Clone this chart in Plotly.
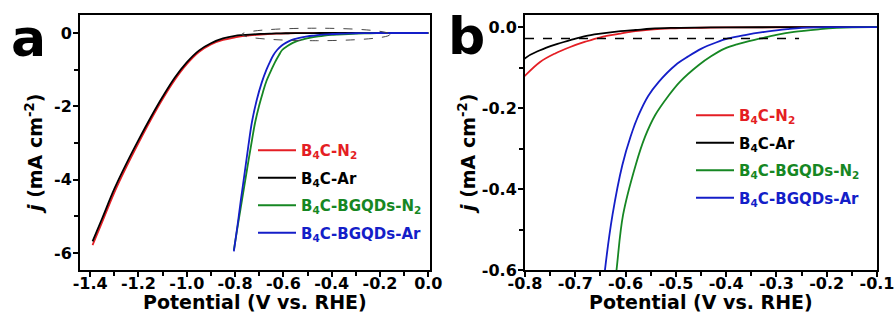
import plotly.graph_objects as go

# ---------------- data ----------------
# B4C-N2 (red) and B4C-Ar (black) share a potential grid
b4c_potential = [-1.39, -1.35, -1.30, -1.25, -1.20, -1.15, -1.10, -1.05, -1.00, -0.95,
                 -0.90, -0.85, -0.80, -0.77, -0.74, -0.71, -0.68, -0.65, -0.61, -0.58,
                 -0.55, -0.51, -0.45, -0.40, -0.30, -0.20, -0.10, 0.0]
b4c_n2_current = [-5.78, -5.15, -4.35, -3.65, -3.00, -2.38, -1.80, -1.28, -0.85, -0.52,
                  -0.31, -0.19, -0.12, -0.086, -0.065, -0.049, -0.036, -0.025, -0.016, -0.010,
                  -0.006, -0.003, -0.0015, -0.0008, -0.0003, 0.0, 0.0, 0.0]
b4c_ar_current = [-5.68, -5.05, -4.25, -3.56, -2.92, -2.31, -1.74, -1.22, -0.80, -0.48,
                  -0.28, -0.15, -0.077, -0.057, -0.043, -0.032, -0.022, -0.016, -0.010, -0.007,
                  -0.004, -0.002, -0.001, -0.0005, -0.0002, 0.0, 0.0, 0.0]

bgqd_n2_potential = [-0.805, -0.79, -0.77, -0.75, -0.73, -0.717, -0.70, -0.685, -0.67, -0.65,
                     -0.635, -0.618, -0.605, -0.580, -0.561, -0.541, -0.515, -0.492, -0.455, -0.43,
                     -0.403, -0.377, -0.331, -0.30, -0.265, -0.213, -0.18, -0.15, -0.10, 0.0]
bgqd_n2_current = [-5.92, -5.30, -4.50, -3.70, -2.92, -2.44, -1.97, -1.62, -1.31, -1.01,
                   -0.80, -0.60, -0.464, -0.341, -0.27, -0.217, -0.17, -0.135, -0.094, -0.072,
                   -0.053, -0.042, -0.028, -0.019, -0.0115, -0.005, -0.002, -0.0005, 0.0, 0.0]

bgqd_ar_potential = [-0.805, -0.79, -0.776, -0.76, -0.745, -0.73, -0.71, -0.69, -0.67, -0.655,
                     -0.641, -0.626, -0.6065, -0.59, -0.574, -0.555, -0.534, -0.501, -0.475, -0.449,
                     -0.42, -0.396, -0.36, -0.331, -0.30, -0.278, -0.25, -0.20, -0.10, 0.0]
bgqd_ar_current = [-5.95, -5.25, -4.55, -3.80, -3.08, -2.42, -1.82, -1.36, -1.00, -0.78,
                   -0.60, -0.464, -0.341, -0.27, -0.217, -0.17, -0.135, -0.094, -0.072, -0.053,
                   -0.038, -0.028, -0.019, -0.013, -0.008, -0.005, -0.002, 0.0, 0.0, 0.0]

series_names = ['B<sub>4</sub>C-N<sub>2</sub>', 'B<sub>4</sub>C-Ar',
                'B<sub>4</sub>C-BGQDs-N<sub>2</sub>', 'B<sub>4</sub>C-BGQDs-Ar']
series_colors = ['rgb(228,30,36)', 'rgb(0,0,0)', 'rgb(22,135,35)', 'rgb(20,30,200)']

# onset reference line (panel b) and highlighted region (panel a)
onset_line_x = [-0.80, -0.255]
onset_line_j = [-0.028, -0.028]
ellipse_x = [-0.772, -0.159]
ellipse_j = [-0.21, 0.13]

# axis ticks
a_xticks = [-1.4, -1.2, -1.0, -0.8, -0.6, -0.4, -0.2, 0.0]
a_xticklabels = ['-1.4', '-1.2', '-1.0', '-0.8', '-0.6', '-0.4', '-0.2', '0.0']
a_yticks = [0, -2, -4, -6]
a_yticklabels = ['0', '-2', '-4', '-6']
b_xticks = [-0.8, -0.7, -0.6, -0.5, -0.4, -0.3, -0.2, -0.1]
b_xticklabels = ['-0.8', '-0.7', '-0.6', '-0.5', '-0.4', '-0.3', '-0.2', '-0.1']
b_yticks = [0.0, -0.2, -0.4, -0.6]
b_yticklabels = ['0.0', '-0.2', '-0.4', '-0.6']

# ---------------- figure ----------------
W, H = 895, 324
FONT = 'DejaVu Sans'

def px_x(p):
    return p / W

def px_y(p):
    return 1 - p / H

series = [
    (b4c_potential, b4c_n2_current),
    (b4c_potential, b4c_ar_current),
    (bgqd_n2_potential, bgqd_n2_current),
    (bgqd_ar_potential, bgqd_ar_current),
]

fig = go.Figure()
for panel, (xa, ya, leg) in enumerate([('x', 'y', 'legend'), ('x2', 'y2', 'legend2')]):
    for k, ((xs, ys), name, color) in enumerate(zip(series, series_names, series_colors)):
        fig.add_trace(go.Scatter(
            x=xs, y=ys, mode='lines', xaxis=xa, yaxis=ya, legend=leg,
            legendgroup='p%d_%d' % (panel, k),
            name='<span style="color:%s">%s</span>' % (color, name),
            line=dict(color=color, width=1.8, shape='spline', smoothing=1.0),
        ))

fig.add_trace(go.Scatter(
    x=onset_line_x, y=onset_line_j, mode='lines', xaxis='x2', yaxis='y2',
    showlegend=False, line=dict(color='black', width=1.6, dash='dash'),
))

fig.add_shape(type='circle', xref='x', yref='y',
              x0=ellipse_x[0], x1=ellipse_x[1], y0=ellipse_j[0], y1=ellipse_j[1],
              line=dict(color='rgb(70,70,70)', width=1, dash='dash'))

tickfont = dict(family=FONT, size=16, color='black', weight='bold')
minor_common = dict(ticks='outside', ticklen=4, tickcolor='black', tickwidth=1.5)
common = dict(showline=True, linewidth=2, linecolor='black', mirror=True,
              ticks='outside', ticklen=5, tickwidth=1.5, tickcolor='black',
              showgrid=False, zeroline=False, tickfont=tickfont, automargin=False)

fig.update_layout(
    template='none',
    width=W, height=H,
    margin=dict(l=0, r=0, t=0, b=0, pad=0, autoexpand=False),
    paper_bgcolor='white', plot_bgcolor='white',
    xaxis=dict(domain=[px_x(80), px_x(430)], range=[-1.442, 0.007], anchor='y',
               tickvals=a_xticks, ticktext=a_xticklabels, ticklabelstandoff=-7,
               minor=dict(dtick=0.1, **minor_common), **common),
    yaxis=dict(domain=[px_y(270), px_y(15)], range=[-6.46, 0.49], anchor='x',
               tickvals=a_yticks, ticktext=a_yticklabels, ticklabelstandoff=-2,
               minor=dict(dtick=1, **minor_common), **common),
    xaxis2=dict(domain=[px_x(525), px_x(877)], range=[-0.8, -0.1], anchor='y2',
                tickvals=b_xticks, ticktext=b_xticklabels, ticklabelstandoff=-7,
                minor=dict(dtick=0.05, **minor_common), **common),
    yaxis2=dict(domain=[px_y(270), px_y(15)], range=[-0.6, 0.03], anchor='x2',
                tickvals=b_yticks, ticktext=b_yticklabels, ticklabelstandoff=-2,
                minor=dict(dtick=0.1, **minor_common), **common),
    legend=dict(x=px_x(253), y=px_y(134), xanchor='left', yanchor='top',
                bgcolor='rgba(0,0,0,0)', font=dict(family=FONT, size=15, weight='bold', color='black'),
                itemwidth=38, tracegroupgap=5, borderwidth=0),
    legend2=dict(x=px_x(691), y=px_y(99), xanchor='left', yanchor='top',
                 bgcolor='rgba(0,0,0,0)', font=dict(family=FONT, size=15, weight='bold', color='black'),
                 itemwidth=38, tracegroupgap=5, borderwidth=0),
    showlegend=True,
)

title_font = dict(family=FONT, size=19, color='black', weight='bold')
letter_font = dict(family=FONT, size=52, color='black', weight='bold')
annots = [
    dict(text='Potential (V vs. RHE)', x=px_x(255), y=px_y(302), font=title_font),
    dict(text='Potential (V vs. RHE)', x=px_x(701), y=px_y(302), font=title_font),
    dict(text='<i>j</i> (mA cm<sup>-2</sup>)', x=px_x(34), y=px_y(154), font=title_font, textangle=-90),
    dict(text='<i>j</i> (mA cm<sup>-2</sup>)', x=px_x(467), y=px_y(154), font=title_font, textangle=-90),
    dict(text='a', x=px_x(28), y=px_y(38), font=letter_font),
    dict(text='b', x=px_x(466), y=px_y(36), font=letter_font),
]
for a in annots:
    fig.add_annotation(xref='paper', yref='paper', showarrow=False,
                       xanchor='center', yanchor='middle', **a)

fig.write_html('out.html', config={'displayModeBar': False},
               post_script="document.body.style.margin='0px';document.body.style.padding='0px';")
